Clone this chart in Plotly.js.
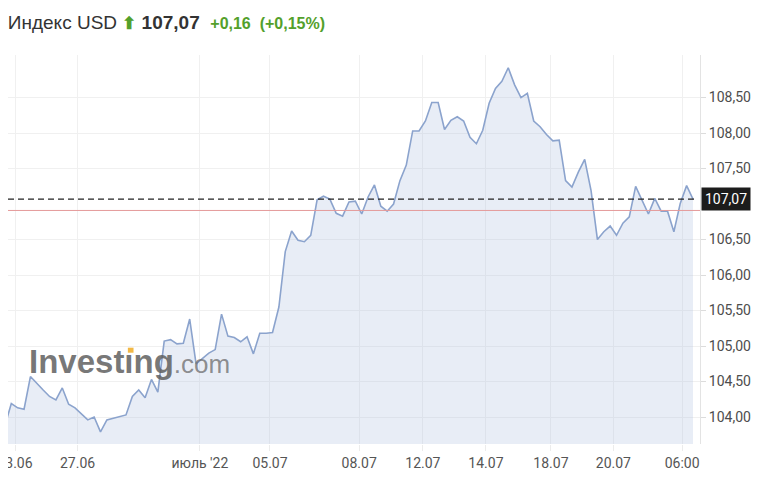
<!DOCTYPE html>
<html>
<head>
<meta charset="utf-8">
<script src="https://cdn.plot.ly/plotly-3.0.1.min.js"></script>
<style>html,body{margin:0;padding:0;background:#fff;}#chart{width:780px;height:480px;}</style>
</head>
<body>
<div id="chart"></div>
<script>
// Index USD price samples (left to right, first sample is just off the left edge)
const prices = [103.88,
  104.19,104.13,104.11,104.57,104.47,104.38,104.29,104.24,104.41,104.18,
  104.13,104.05,103.96,104.00,103.79,103.96,103.98,104.00,104.03,104.29,
  104.38,104.27,104.53,104.35,105.07,105.09,105.03,105.04,105.38,104.75,
  104.82,104.90,104.95,105.45,105.14,105.12,105.06,105.13,104.89,105.18,
  105.18,105.19,105.55,106.33,106.62,106.49,106.47,106.56,107.06,107.11,
  107.07,106.87,106.83,107.03,107.04,106.86,107.10,107.27,106.97,106.90,
  107.00,107.33,107.55,108.03,108.03,108.17,108.43,108.43,108.05,108.18,
  108.23,108.17,107.94,107.85,108.04,108.42,108.63,108.73,108.92,108.68,
  108.50,108.56,108.17,108.09,107.98,107.89,107.90,107.33,107.24,107.45,
  107.63,107.19,106.50,106.61,106.69,106.56,106.73,106.82,107.25,107.05,
  106.86,107.08,106.90,106.90,106.61,107.01,107.26,107.07];
const samplePos = prices.map((_, i) => i - 1);

// x-axis tick labels and their positions (in sample units)
const tickPos   = [0.58, 10.4, 29.6, 40.6, 54.6, 64.6, 74.5, 84.7, 94.5, 105.3];
const tickLabels = ["23.06", "27.06", "июль '22", "05.07", "08.07", "12.07", "14.07", "18.07", "20.07", "06:00"];

const lastPrice = 107.07;
const prevClose = 106.91;
const changeAbs = "+0,16";
const changePct = "(+0,15%)";
const instrument = "Индекс USD";

const green = "#53a02b";

const trace = {
  x: samplePos, y: prices, type: "scatter", mode: "lines",
  line: {color: "#8ba3cd", width: 1.6},
  fill: "tozeroy", fillcolor: "rgba(180,195,225,0.3)",
  hoverinfo: "skip"
};

const layout = {
  width: 780, height: 480,
  margin: {l: 8, r: 80, t: 55, b: 36},
  paper_bgcolor: "#fff", plot_bgcolor: "#fff",
  separators: ", ",
  showlegend: false,
  font: {family: "Roboto, 'Liberation Sans', sans-serif", color: "#4d4d4d", size: 14},
  title: {
    text: instrument + " <span style='color:" + green + ";font-size:17px'><b>⬆</b></span> <b>107,07</b>  " +
          "<span style='color:" + green + ";font-size:16px'><b>" + changeAbs + "  " + changePct + "</b></span>",
    x: 0.01, xref: "container", xanchor: "left",
    y: 0.954, yref: "container", yanchor: "middle",
    font: {family: "'Liberation Sans', Arial, sans-serif", size: 19, color: "#333"}
  },
  xaxis: {
    range: [-0.52, 108.1], fixedrange: true,
    tickvals: tickPos, ticktext: tickLabels,
    ticklabeloverflow: "allow",
    showgrid: true, gridcolor: "#f0f0f0", gridwidth: 1,
    ticks: "outside", ticklen: 6, tickcolor: "#ececec",
    showline: false, zeroline: false,
    tickfont: {size: 14, color: "#555"}
  },
  yaxis: {
    side: "right", range: [103.62, 109.10], fixedrange: true,
    tickvals: [104, 104.5, 105, 105.5, 106, 106.5, 107.5, 108, 108.5],
    tickformat: ".2f",
    showgrid: true, gridcolor: "#f0f0f0", gridwidth: 1,
    ticks: "outside", ticklen: 5, tickcolor: "#dcdcdc",
    showline: true, linecolor: "#e3e3e3", linewidth: 1,
    zeroline: false,
    tickfont: {size: 14, color: "#4d4d4d"}
  },
  shapes: [
    {type: "line", xref: "paper", yref: "y", x0: 0, x1: 1, y0: prevClose, y1: prevClose,
     line: {color: "#e49a9a", width: 1}},
    {type: "line", xref: "paper", yref: "y", x0: 0, x1: 0.992, y0: lastPrice, y1: lastPrice,
     line: {color: "#222", width: 1.4, dash: "6px,4px"}},
    {type: "rect", xref: "paper", yref: "paper", layer: "above",
     x0: -8/692, x1: 0, y0: -0.12, y1: -0.005,
     fillcolor: "#fff", line: {width: 0}},
    {type: "rect", xref: "paper", yref: "paper", layer: "above",
     x0: 0.1732, x1: 0.1814, y0: 0.2347, y1: 0.2476,
     fillcolor: "#f2b846", line: {width: 0}}
  ],
  annotations: [
    {xref: "paper", yref: "y", x: 1, y: lastPrice, xanchor: "left", yanchor: "middle",
     xshift: 1, text: "107,07", showarrow: false, bgcolor: "#1c1c1c", borderpad: 3,
     font: {color: "#fff", size: 14, family: "Roboto, 'Liberation Sans', sans-serif"}},
    {xref: "paper", yref: "paper", x: 0.0275, y: 0.212, xanchor: "left", yanchor: "middle",
     showarrow: false,
     text: "<b>Investıng</b><span style='font-size:26px;color:rgba(110,110,110,0.9)'>.com</span>",
     font: {family: "'Liberation Sans', Arial, sans-serif", size: 33, color: "rgba(95,95,95,0.85)"}}
  ]
};

Plotly.newPlot("chart", [trace], layout, {staticPlot: true, displayModeBar: false});
</script>
</body>
</html>
